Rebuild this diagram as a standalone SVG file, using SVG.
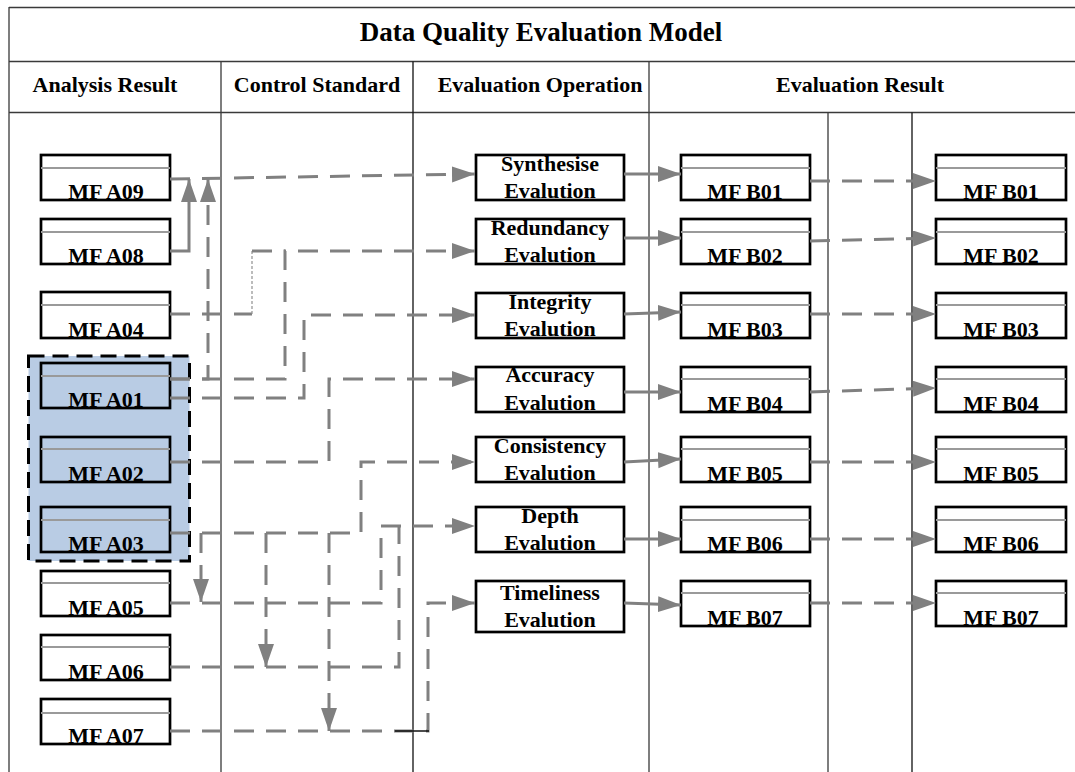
<svg xmlns="http://www.w3.org/2000/svg" width="1075" height="772" viewBox="0 0 1075 772">
<style>
.fr{stroke:#3a3a3a;stroke-width:1.3;fill:none}
.bx{fill:#fff;stroke:#000;stroke-width:2.7}
.bt{fill:none;stroke:#000;stroke-width:2.7}
.sp{stroke:#9a9a9a;stroke-width:2}
.t{font-family:"Liberation Serif","Times New Roman",serif;font-weight:bold;font-size:22px;text-anchor:middle;fill:#000}
.ti{font-size:27px}
.c{stroke:#808080;stroke-width:3;fill:none}
.d{stroke-dasharray:20 12}
</style>
<defs>
<marker id="ah" markerUnits="userSpaceOnUse" markerWidth="24" markerHeight="17" refX="23" refY="8" orient="auto">
<path d="M0,0 L23,8 L0,16 z" fill="#808080"/>
</marker>
</defs>
<rect width="1075" height="772" fill="#fff"/>
<g id="frame">
<path class="fr" d="M9,7.5 H1075 M9,7 V772 M9,61.5 H1075 M9,112.5 H1075 M221,61.5 V772 M649,61.5 V772 M828,112.5 V772"/>
<path class="fr" stroke="#000" d="M413,61.5 V772 M912,112.5 V772" style="stroke:#111"/>
<text class="t ti" x="541" y="41">Data Quality Evaluation Model</text>
<text class="t" x="105" y="92">Analysis Result</text>
<text class="t" x="317" y="92">Control Standard</text>
<text class="t" x="540" y="92">Evaluation Operation</text>
<text class="t" x="860" y="92">Evaluation Result</text>
</g>
<g id="group-A01-A03">
<rect x="28.5" y="356" width="161" height="205" fill="#b9cce4" stroke="#000" stroke-width="3" stroke-dasharray="16 8"/>
</g>
<g id="A09"><rect class="bx" x="41" y="155" width="129" height="45"/><line class="sp" x1="41" y1="168" x2="170" y2="168"/><text class="t" x="106" y="199">MF A09</text></g>
<g id="A08"><rect class="bx" x="41" y="219" width="129" height="45"/><line class="sp" x1="41" y1="232" x2="170" y2="232"/><text class="t" x="106" y="263">MF A08</text></g>
<g id="A04"><rect class="bx" x="41" y="292" width="129" height="46"/><line class="sp" x1="41" y1="305" x2="170" y2="305"/><text class="t" x="106" y="337">MF A04</text></g>
<g id="A01"><rect class="bt" x="41" y="363" width="129" height="45"/><line class="sp" x1="41" y1="376" x2="170" y2="376"/><text class="t" x="106" y="407">MF A01</text></g>
<g id="A02"><rect class="bt" x="41" y="437" width="129" height="45"/><line class="sp" x1="41" y1="449" x2="170" y2="449"/><text class="t" x="106" y="481">MF A02</text></g>
<g id="A03"><rect class="bt" x="41" y="507" width="129" height="45"/><line class="sp" x1="41" y1="520" x2="170" y2="520"/><text class="t" x="106" y="551">MF A03</text></g>
<g id="A05"><rect class="bx" x="41" y="571" width="129" height="45"/><line class="sp" x1="41" y1="583" x2="170" y2="583"/><text class="t" x="106" y="615">MF A05</text></g>
<g id="A06"><rect class="bx" x="41" y="635" width="129" height="45"/><line class="sp" x1="41" y1="647" x2="170" y2="647"/><text class="t" x="106" y="679">MF A06</text></g>
<g id="A07"><rect class="bx" x="41" y="699" width="129" height="45"/><line class="sp" x1="41" y1="713" x2="170" y2="713"/><text class="t" x="106" y="743">MF A07</text></g>
<g id="E-synth"><rect class="bx" x="476" y="155" width="148" height="45"/><text class="t" x="550" y="171">Synthesise</text><text class="t" x="550" y="198">Evalution</text></g>
<g id="E-redund"><rect class="bx" x="476" y="219" width="148" height="45"/><text class="t" x="550" y="235">Redundancy</text><text class="t" x="550" y="262">Evalution</text></g>
<g id="E-integ"><rect class="bx" x="476" y="293" width="148" height="45"/><text class="t" x="550" y="309">Integrity</text><text class="t" x="550" y="336">Evalution</text></g>
<g id="E-accur"><rect class="bx" x="476" y="367" width="148" height="45"/><text class="t" x="550" y="382">Accuracy</text><text class="t" x="550" y="410">Evalution</text></g>
<g id="E-consis"><rect class="bx" x="476" y="437" width="148" height="45"/><text class="t" x="550" y="453">Consistency</text><text class="t" x="550" y="480">Evalution</text></g>
<g id="E-depth"><rect class="bx" x="476" y="507" width="148" height="45"/><text class="t" x="550" y="523">Depth</text><text class="t" x="550" y="550">Evalution</text></g>
<g id="E-timel"><rect class="bx" x="476" y="581" width="148" height="51"/><text class="t" x="550" y="600">Timeliness</text><text class="t" x="550" y="627">Evalution</text></g>
<g id="B01m"><rect class="bx" x="681" y="155" width="129" height="45"/><line class="sp" x1="681" y1="168" x2="810" y2="168"/><text class="t" x="745" y="199">MF B01</text></g>
<g id="B02m"><rect class="bx" x="681" y="219" width="129" height="45"/><line class="sp" x1="681" y1="232" x2="810" y2="232"/><text class="t" x="745" y="263">MF B02</text></g>
<g id="B03m"><rect class="bx" x="681" y="293" width="129" height="45"/><line class="sp" x1="681" y1="305" x2="810" y2="305"/><text class="t" x="745" y="337">MF B03</text></g>
<g id="B04m"><rect class="bx" x="681" y="367" width="129" height="45"/><line class="sp" x1="681" y1="379" x2="810" y2="379"/><text class="t" x="745" y="411">MF B04</text></g>
<g id="B05m"><rect class="bx" x="681" y="437" width="129" height="45"/><line class="sp" x1="681" y1="449" x2="810" y2="449"/><text class="t" x="745" y="481">MF B05</text></g>
<g id="B06m"><rect class="bx" x="681" y="507" width="129" height="45"/><line class="sp" x1="681" y1="520" x2="810" y2="520"/><text class="t" x="745" y="551">MF B06</text></g>
<g id="B07m"><rect class="bx" x="681" y="581" width="129" height="45"/><line class="sp" x1="681" y1="593" x2="810" y2="593"/><text class="t" x="745" y="625">MF B07</text></g>
<g id="B01r"><rect class="bx" x="936" y="155" width="130" height="45"/><line class="sp" x1="936" y1="168" x2="1066" y2="168"/><text class="t" x="1001" y="199">MF B01</text></g>
<g id="B02r"><rect class="bx" x="936" y="219" width="130" height="45"/><line class="sp" x1="936" y1="232" x2="1066" y2="232"/><text class="t" x="1001" y="263">MF B02</text></g>
<g id="B03r"><rect class="bx" x="936" y="293" width="130" height="45"/><line class="sp" x1="936" y1="305" x2="1066" y2="305"/><text class="t" x="1001" y="337">MF B03</text></g>
<g id="B04r"><rect class="bx" x="936" y="367" width="130" height="45"/><line class="sp" x1="936" y1="379" x2="1066" y2="379"/><text class="t" x="1001" y="411">MF B04</text></g>
<g id="B05r"><rect class="bx" x="936" y="437" width="130" height="45"/><line class="sp" x1="936" y1="449" x2="1066" y2="449"/><text class="t" x="1001" y="481">MF B05</text></g>
<g id="B06r"><rect class="bx" x="936" y="507" width="130" height="45"/><line class="sp" x1="936" y1="520" x2="1066" y2="520"/><text class="t" x="1001" y="551">MF B06</text></g>
<g id="B07r"><rect class="bx" x="936" y="581" width="130" height="45"/><line class="sp" x1="936" y1="593" x2="1066" y2="593"/><text class="t" x="1001" y="625">MF B07</text></g>
<g id="connectors">
<path class="c d" d="M170,179 L475,174" marker-end="url(#ah)"/>
<path class="c" d="M170,251 L189,251 L189,179" marker-end="url(#ah)"/>
<path class="c d" d="M170,379 L208,379 L208,179" marker-end="url(#ah)"/>
<path class="c d" d="M170,379 L285,379 L285,251 L475,251" marker-end="url(#ah)"/>
<path class="c d" d="M170,314 L252,314"/>
<path d="M252,314 L252,251" stroke="#909090" stroke-width="1.2" stroke-dasharray="3 2" fill="none"/>
<path class="c d" d="M252,251 L285,251"/>
<path class="c d" d="M170,398 L304,398 L304,315 L475,315" marker-end="url(#ah)"/>
<path class="c d" d="M170,462 L329,462 L329,379 L475,379" marker-end="url(#ah)"/>
<path class="c d" d="M170,533 L361,533 L361,462 L475,462" marker-end="url(#ah)"/>
<path class="c d" d="M201,533 L201,602" marker-end="url(#ah)"/>
<path class="c d" d="M266,533 L266,667" marker-end="url(#ah)"/>
<path class="c d" d="M329,533 L329,731" marker-end="url(#ah)"/>
<path class="c d" d="M170,603 L381,603 L381,526 L475,526" marker-end="url(#ah)"/>
<path class="c d" d="M170,667 L399,667 L399,526"/>
<path class="c d" d="M170,731 L428,731 L428,603 L475,603" marker-end="url(#ah)"/>
<path d="M395,731 L429,731" stroke="#111" stroke-width="1.3" fill="none"/>
<path class="c" d="M624,174 L681,174" marker-end="url(#ah)"/>
<path class="c" d="M624,238 L681,238" marker-end="url(#ah)"/>
<path class="c" d="M624,314 L681,312" marker-end="url(#ah)"/>
<path class="c" d="M624,392 L681,392" marker-end="url(#ah)"/>
<path class="c" d="M624,462 L681,459" marker-end="url(#ah)"/>
<path class="c" d="M624,539 L681,539" marker-end="url(#ah)"/>
<path class="c" d="M624,603 L681,605" marker-end="url(#ah)"/>
<path class="c d" d="M810,181 L936,181" marker-end="url(#ah)"/>
<path class="c d" d="M810,241 L936,238" marker-end="url(#ah)"/>
<path class="c d" d="M810,314 L936,314" marker-end="url(#ah)"/>
<path class="c d" d="M810,392 L936,388" marker-end="url(#ah)"/>
<path class="c d" d="M810,462 L936,462" marker-end="url(#ah)"/>
<path class="c d" d="M810,539 L936,539" marker-end="url(#ah)"/>
<path class="c d" d="M810,603 L936,603" marker-end="url(#ah)"/>
</g>
</svg>
